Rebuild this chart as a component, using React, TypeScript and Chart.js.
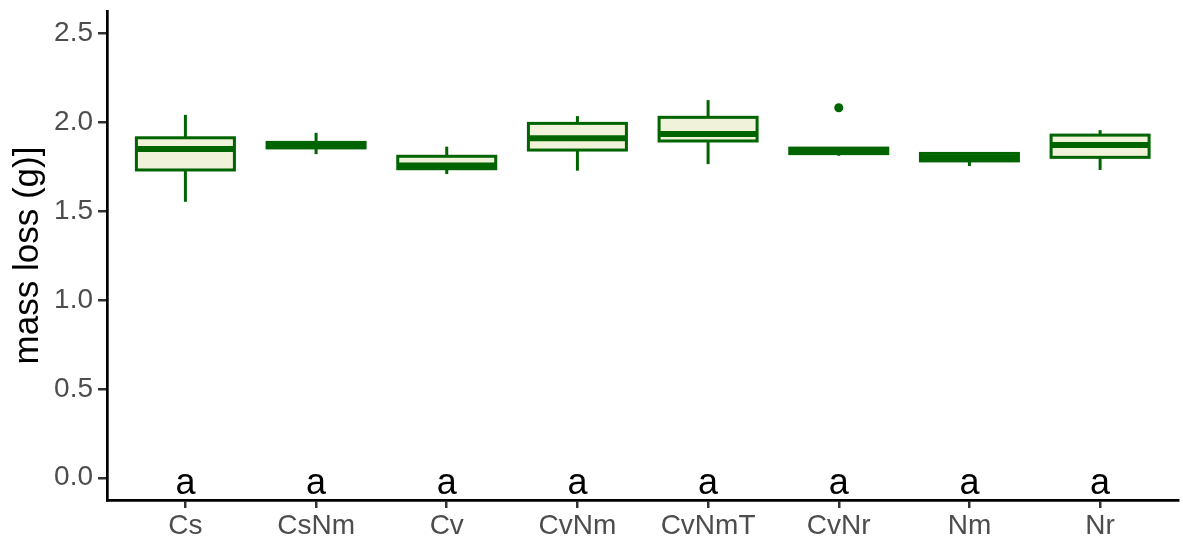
import React, { useEffect, useRef } from "react";
import { Chart, registerables } from "chart.js";

Chart.register(...registerables);

const categories = ["Cs", "CsNm", "Cv", "CvNm", "CvNmT", "CvNr", "Nm", "Nr"];
const whiskerLow = [1.552, 1.82, 1.708, 1.727, 1.764, 1.811, 1.753, 1.731];
const q1 = [1.731, 1.855, 1.738, 1.843, 1.894, 1.823, 1.782, 1.802];
const median = [1.849, 1.87, 1.756, 1.909, 1.933, 1.838, 1.8, 1.871];
const q3 = [1.912, 1.886, 1.808, 1.993, 2.027, 1.854, 1.824, 1.927];
const whiskerHigh = [2.041, 1.94, 1.862, 2.034, 2.124, 1.856, 1.83, 1.955];
const outlierCategory = ["CvNr"];
const outlierValue = [2.081];
const letters = ["a", "a", "a", "a", "a", "a", "a", "a"];
const yTicks = [0, 0.5, 1, 1.5, 2, 2.5];

const LINE = "#006400";
const FILL = "#F0F3D9";
const FONT = "'Liberation Sans', Arial, sans-serif";

const boxPlugin = {
  id: "boxes",
  beforeDatasetsDraw(chart: any) {
    const { ctx, scales } = chart;
    const x = scales.x;
    const y = scales.y;
    ctx.save();
    categories.forEach((_, i) => {
      const cx = x.getPixelForValue(i + 1);
      const half = Math.abs(x.getPixelForValue(i + 1 + 0.375) - cx);
      const yLo = y.getPixelForValue(whiskerLow[i]);
      const yHi = y.getPixelForValue(whiskerHigh[i]);
      const yQ1 = y.getPixelForValue(q1[i]);
      const yQ3 = y.getPixelForValue(q3[i]);
      const yMed = y.getPixelForValue(median[i]);
      ctx.strokeStyle = LINE;
      ctx.lineWidth = 3;
      ctx.beginPath();
      ctx.moveTo(cx, yLo);
      ctx.lineTo(cx, yHi);
      ctx.stroke();
      ctx.fillStyle = FILL;
      ctx.fillRect(cx - half, yQ3, 2 * half, yQ1 - yQ3);
      ctx.strokeRect(cx - half, yQ3, 2 * half, yQ1 - yQ3);
      ctx.lineWidth = 6;
      ctx.lineCap = "butt";
      ctx.beginPath();
      ctx.moveTo(cx - half, yMed);
      ctx.lineTo(cx + half, yMed);
      ctx.stroke();
      ctx.fillStyle = "#000000";
      ctx.font = `36px ${FONT}`;
      ctx.textAlign = "center";
      ctx.textBaseline = "alphabetic";
      ctx.fillText(letters[i], cx, y.getPixelForValue(0) + 16);
    });
    ctx.restore();
  },
};

export default function App() {
  const ref = useRef<HTMLCanvasElement>(null);
  useEffect(() => {
    if (!ref.current) return;
    Chart.defaults.font.family = FONT;
    const chart = new Chart(ref.current, {
      type: "scatter",
      data: {
        datasets: [
          {
            data: outlierCategory.map((c, k) => ({
              x: categories.indexOf(c) + 1,
              y: outlierValue[k],
            })),
            pointRadius: 4.5,
            pointHoverRadius: 4.5,
            backgroundColor: LINE,
            borderWidth: 0,
          },
        ],
      },
      options: {
        animation: false,
        responsive: false,
        devicePixelRatio: 1,
        layout: { padding: { top: 11, right: 0, left: 0, bottom: 0 } },
        plugins: {
          legend: { display: false },
          tooltip: { enabled: false },
        },
        scales: {
          x: {
            type: "linear",
            min: 0.4,
            max: 8.6,
            afterBuildTicks: (scale: any) => {
              scale.ticks = categories.map((_, i) => ({ value: i + 1 }));
            },
            afterFit: (scale: any) => {
              scale.height = 45;
              scale.paddingLeft = 0;
              scale.paddingRight = 0;
            },
            ticks: {
              callback: (v: any) => categories[Number(v) - 1] ?? "",
              font: { size: 28 },
              color: "#4D4D4D",
              padding: 1,
              autoSkip: false,
              maxRotation: 0,
            },
            grid: {
              drawOnChartArea: false,
              drawTicks: true,
              tickLength: 8,
              color: "#333333",
              lineWidth: 2.5,
            },
            border: { display: true, color: "#000000", width: 2.7 },
          },
          y: {
            type: "linear",
            min: -0.125,
            max: 2.625,
            afterBuildTicks: (scale: any) => {
              scale.ticks = yTicks.map((v) => ({ value: v }));
            },
            afterFit: (scale: any) => {
              scale.width = 107;
              scale.paddingTop = 0;
              scale.paddingBottom = 0;
            },
            ticks: {
              callback: (v: any) => Number(v).toFixed(1),
              font: { size: 28 },
              color: "#4D4D4D",
              padding: 5,
            },
            grid: {
              drawOnChartArea: false,
              drawTicks: true,
              tickLength: 9,
              color: "#333333",
              lineWidth: 2.5,
            },
            border: { display: true, color: "#000000", width: 2.7 },
            title: {
              display: true,
              text: "mass loss (g)]",
              font: { size: 35 },
              color: "#000000",
              padding: { top: 7, bottom: 0 },
            },
          },
        },
      },
      plugins: [boxPlugin],
    });
    return () => chart.destroy();
  }, []);
  return (
    <div
      style={{
        position: "fixed",
        left: 0,
        top: 0,
        width: 1183,
        height: 545,
        background: "#ffffff",
      }}
    >
      <canvas ref={ref} width={1183} height={545} />
    </div>
  );
}
